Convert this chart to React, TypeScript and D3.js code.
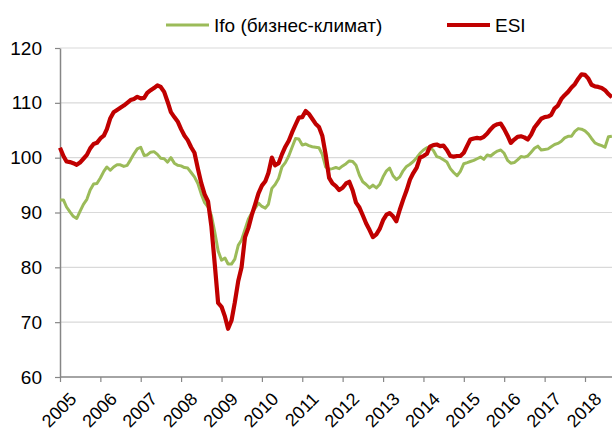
import React, { useEffect, useRef } from 'react';
import * as d3 from 'd3';

// monthly values, Jan 2005 .. Sep 2018
const esiValues: number[] = [
  101.8, 100.3, 99.3, 99.2, 99.0, 98.7, 99.1, 99.8, 100.5, 101.7, 102.5, 102.7,
  103.5, 104.0, 105.2, 107.2, 108.3, 108.7, 109.1, 109.5, 110.0, 110.5, 110.7, 111.1,
  110.8, 110.9, 111.8, 112.3, 112.7, 113.2, 112.9, 112.0, 110.2, 108.3, 107.4, 106.6,
  105.2, 104.0, 103.2, 101.9, 100.9, 98.0, 95.4, 93.3, 92.0, 87.5, 80.5, 73.5,
  72.8, 71.0, 68.8, 70.3, 73.6, 77.5, 80.0, 85.5, 87.2, 89.5, 91.5, 93.5,
  94.9, 95.7, 97.2, 100.0, 98.6, 99.0, 100.6, 102.0, 103.1, 104.6, 106.0, 107.3,
  107.4, 108.5, 108.0, 107.1, 106.2, 105.6, 104.0, 100.5, 96.3, 95.3, 94.8, 94.1,
  94.5, 95.3, 95.6, 94.0, 91.8, 90.9, 89.5, 88.0, 86.8, 85.5, 86.0, 87.0,
  88.6, 89.6, 89.9, 89.3, 88.4, 90.5, 92.3, 94.0, 96.0, 97.2, 98.2, 100.0,
  100.3, 100.7, 102.0, 102.3, 102.4, 102.1, 102.2, 101.4, 100.3, 100.2, 100.3, 100.3,
  100.9, 102.2, 103.3, 103.5, 103.6, 103.5, 103.8, 104.4, 105.2, 105.8, 106.1, 106.2,
  105.2, 104.0, 102.7, 103.3, 103.8, 103.9, 103.7, 103.3, 104.2, 105.5, 106.3, 107.1,
  107.4, 107.5, 107.8, 109.0, 109.5, 110.7, 111.4, 112.0, 112.8, 113.4, 114.4, 115.2,
  115.1, 114.4, 113.3, 113.0, 112.9, 112.7, 112.3, 111.6, 111.0,
];

const ifoValues: number[] = [
  92.3, 92.3, 91.0, 90.1, 89.3, 88.9, 90.2, 91.5, 92.4, 94.1, 95.2, 95.3,
  96.3, 97.5, 98.3, 97.7, 98.3, 98.7, 98.7, 98.4, 98.6, 99.6, 100.7, 101.6,
  101.9, 100.4, 100.5, 101.0, 101.1, 100.6, 99.9, 99.8, 99.2, 100.0, 99.0, 98.6,
  98.5, 98.2, 98.1, 97.3, 96.5, 95.3, 93.4, 91.8, 91.0, 89.5, 86.4, 83.0,
  81.3, 81.7, 80.6, 80.6, 81.5, 84.0, 85.0, 86.9, 88.8, 89.9, 90.8, 91.7,
  91.1, 90.8, 91.5, 94.4, 95.1, 96.2, 98.3, 99.1, 100.3, 101.9, 103.5, 103.4,
  102.3, 102.5, 102.2, 102.0, 101.9, 101.8, 100.6, 98.3, 97.9, 98.0, 98.2, 98.0,
  98.5, 98.9, 99.4, 99.3, 98.6, 96.8, 95.6, 95.1, 94.5, 95.0, 94.5, 95.1,
  96.5, 97.6, 98.1, 96.7, 96.0, 96.5, 97.6, 98.4, 98.8, 99.3, 100.0, 100.8,
  101.4, 101.8, 101.9, 101.3, 100.2, 100.0, 99.6, 99.2, 98.0, 97.3, 96.7, 97.5,
  98.9, 99.1, 99.3, 99.5, 99.8, 100.1, 99.7, 100.5, 100.3, 100.8, 101.2, 101.4,
  100.8, 99.5, 99.0, 99.1, 99.6, 100.2, 100.1, 100.3, 101.0, 101.7, 102.1, 101.4,
  101.5, 101.6, 102.0, 102.4, 102.6, 103.0, 103.6, 103.9, 103.9, 104.8, 105.3, 105.2,
  104.9, 104.3, 103.5, 102.7, 102.4, 102.2, 101.9, 103.8, 103.9,
];

const yearTicks: number[] = [2005, 2006, 2007, 2008, 2009, 2010, 2011, 2012, 2013, 2014, 2015, 2016, 2017, 2018];
const yTicks: number[] = [60, 70, 80, 90, 100, 110, 120];
const seriesNames = ['Ifo (бизнес-климат)', 'ESI'];
const seriesColors = ['#9BBB59', '#C00000'];

interface Pt {
  date: Date;
  value: number;
}

const toPoints = (vals: number[]): Pt[] => vals.map((v, i) => ({ date: new Date(2005, i, 1), value: v }));

const W = 612;
const H = 430;

const Chart: React.FC = () => {
  const svgRef = useRef<SVGSVGElement | null>(null);

  useEffect(() => {
    if (!svgRef.current) return;
    const svg = d3.select(svgRef.current);
    svg.selectAll('*').remove();

    const left = 60;
    const right = 612;
    const top = 48;
    const bottom = 377;
    const font = 'Liberation Sans, Arial, sans-serif';

    const x = d3
      .scaleTime()
      .domain([new Date(2005, 0, 1), new Date(2018, 0, 1)])
      .range([left, 585]);
    const y = d3.scaleLinear().domain([60, 120]).range([bottom, top]);

    // сетка
    svg
      .append('g')
      .selectAll('line')
      .data(yTicks.filter((t) => t > 60))
      .join('line')
      .attr('x1', left)
      .attr('x2', right)
      .attr('y1', (d) => y(d))
      .attr('y2', (d) => y(d))
      .attr('stroke', '#d9d9d9')
      .attr('stroke-width', 1.2);

    // y axis
    const yAxis = svg
      .append('g')
      .attr('transform', `translate(${left},0)`)
      .call(d3.axisLeft(y).tickValues(yTicks).tickSize(5).tickPadding(13).tickSizeOuter(0));
    yAxis.select('.domain').attr('stroke', '#868686').attr('stroke-width', 1.5);
    yAxis.selectAll('.tick line').attr('stroke', '#868686').attr('stroke-width', 1.2);
    yAxis
      .selectAll('.tick text')
      .attr('font-family', font)
      .attr('font-size', 19)
      .attr('fill', '#000');

    // x axis
    const xAxis = svg
      .append('g')
      .attr('transform', `translate(0,${bottom})`)
      .call(
        d3
          .axisBottom<Date>(x)
          .tickValues(yearTicks.map((yr) => new Date(yr, 0, 1)))
          .tickFormat((d) => String((d as Date).getFullYear()))
          .tickSize(5)
          .tickSizeOuter(0),
      );
    xAxis.select('.domain').attr('stroke', '#868686').attr('stroke-width', 1.5).attr('d', `M${left},0H${right}`);
    xAxis.selectAll('.tick line').attr('stroke', '#868686').attr('stroke-width', 1.2);
    xAxis
      .selectAll('.tick text')
      .attr('font-family', font)
      .attr('font-size', 18)
      .attr('fill', '#000')
      .attr('text-anchor', 'end')
      .attr('dy', '0.35em')
      .attr('transform', 'translate(7,13) rotate(-45)');

    const line = d3
      .line<Pt>()
      .x((d) => x(d.date))
      .y((d) => y(d.value));

    svg
      .append('path')
      .datum(toPoints(ifoValues))
      .attr('fill', 'none')
      .attr('stroke', seriesColors[0])
      .attr('stroke-width', 3)
      .attr('stroke-linejoin', 'round')
      .attr('d', line);

    svg
      .append('path')
      .datum(toPoints(esiValues))
      .attr('fill', 'none')
      .attr('stroke', seriesColors[1])
      .attr('stroke-width', 4.2)
      .attr('stroke-linejoin', 'round')
      .attr('d', line);

    // legend
    const legendX = [166, 447];
    const legend = svg.append('g');
    seriesNames.forEach((name, i) => {
      legend
        .append('line')
        .attr('x1', legendX[i])
        .attr('x2', legendX[i] + 43)
        .attr('y1', 25)
        .attr('y2', 25)
        .attr('stroke', seriesColors[i])
        .attr('stroke-width', i === 0 ? 3 : 4);
      legend
        .append('text')
        .attr('x', legendX[i] + 48)
        .attr('y', 25)
        .attr('dy', '0.35em')
        .attr('font-family', font)
        .attr('font-size', 19)
        .attr('fill', '#000')
        .text(name);
    });
  }, []);

  return <svg ref={svgRef} width={W} height={H} style={{ display: 'block', background: '#fff' }}></svg>;
};

export default function App() {
  return (
    <div style={{ position: 'absolute', left: 0, top: 0, width: W, height: H, background: '#fff' }}>
      <Chart />
    </div>
  );
}
